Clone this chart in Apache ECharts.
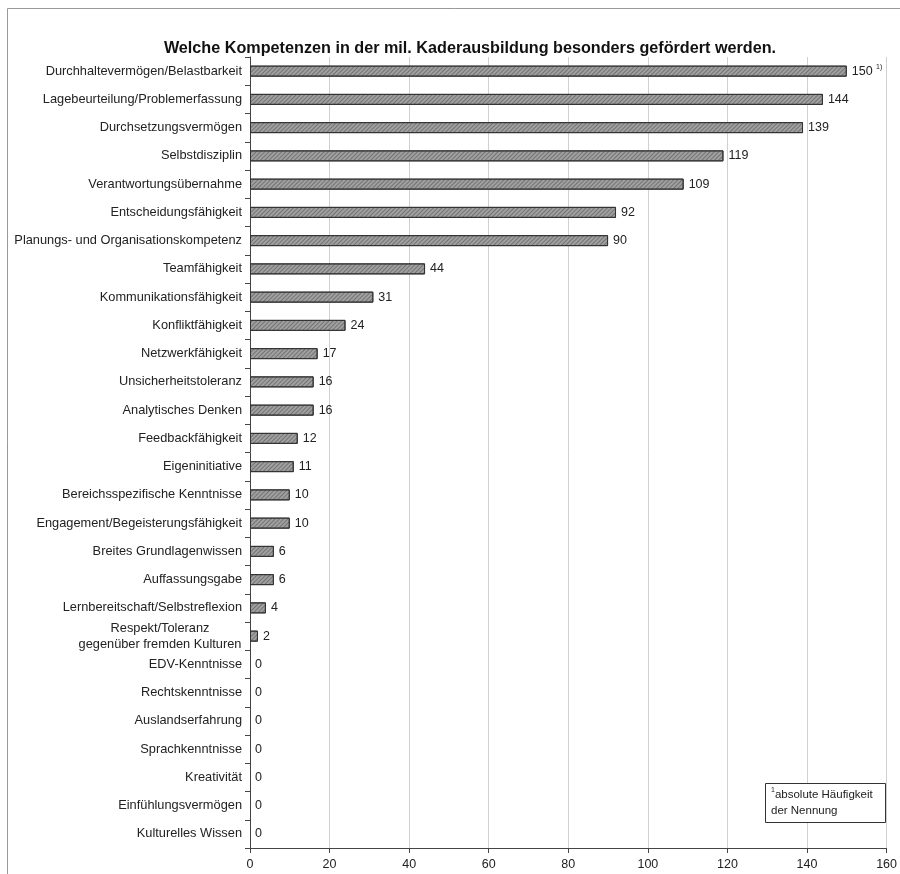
<!DOCTYPE html>
<html><head><meta charset="utf-8">
<script src="https://cdn.jsdelivr.net/npm/echarts@6/dist/echarts.min.js"></script>
<style>html,body{margin:0;padding:0;background:#fff}#c{width:900px;height:874px}</style>
</head><body><div id="c"></div>
<script>
const categories = [
 "Durchhaltevermögen/Belastbarkeit","Lagebeurteilung/Problemerfassung","Durchsetzungsvermögen","Selbstdisziplin",
 "Verantwortungsübernahme","Entscheidungsfähigkeit","Planungs- und Organisationskompetenz","Teamfähigkeit",
 "Kommunikationsfähigkeit","Konfliktfähigkeit","Netzwerkfähigkeit","Unsicherheitstoleranz","Analytisches Denken",
 "Feedbackfähigkeit","Eigeninitiative","Bereichsspezifische Kenntnisse","Engagement/Begeisterungsfähigkeit",
 "Breites Grundlagenwissen","Auffassungsgabe","Lernbereitschaft/Selbstreflexion",
 "Respekt/Toleranz\ngegenüber fremden Kulturen","EDV-Kenntnisse","Rechtskenntnisse","Auslandserfahrung",
 "Sprachkenntnisse","Kreativität","Einfühlungsvermögen","Kulturelles Wissen"];
const values = [150,144,139,119,109,92,90,44,31,24,17,16,16,12,11,10,10,6,6,4,2,0,0,0,0,0,0,0];
const xTicks = [0,20,40,60,80,100,120,140,160];
const titleText = "Welche Kompetenzen in der mil. Kaderausbildung besonders gefördert werden.";
const noteLines = ["{s|1}absolute Häufigkeit","der Nennung"];

const chart = echarts.init(document.getElementById('c'));
const F = "'Liberation Sans', Arial, sans-serif";
const barData = values.map(v => v === 0 ? {value:v,itemStyle:{borderWidth:0,opacity:0}} : v);
chart.setOption({
  backgroundColor:'#fff',
  animation:false,
  title:{text:titleText,left:465,top:36,textAlign:'center',
    textStyle:{fontFamily:F,fontSize:16.2,fontWeight:'bold',color:'#111'}},
  grid:{left:250,right:12,top:57,bottom:26,containLabel:false},
  xAxis:{type:'value',min:0,max:160,interval:20,
    axisLine:{show:true,lineStyle:{color:'#444'}},
    axisTick:{show:true,length:5,lineStyle:{color:'#444'}},
    splitLine:{show:true,lineStyle:{color:'#d0d0d0',width:1}},
    axisLabel:{fontFamily:F,fontSize:12.5,color:'#222',margin:10,
      formatter:v=>xTicks.includes(v)?String(v):''}},
  yAxis:{type:'category',data:categories,inverse:true,
    axisLine:{show:true,lineStyle:{color:'#444'}},
    axisTick:{show:true,length:5,lineStyle:{color:'#444'}},
    axisLabel:{fontFamily:F,fontSize:12.8,color:'#222',margin:8,
      formatter:v=>{ if(v.indexOf('\n')>=0){const p=v.split('\n');return '{c|'+p[0]+'}\n{c|'+p[1]+'}';} return v;},
      rich:{c:{fontFamily:F,fontSize:12.8,color:'#222',width:164,align:'center',lineHeight:16}}}},
  series:[{type:'bar',data:barData,barWidth:11,
    itemStyle:{color:'#a0a0a0',borderColor:'#333',borderWidth:1,
      decal:{symbol:'rect',symbolSize:1,dashArrayX:[1,0],dashArrayY:[1,2],rotation:-Math.PI/4,color:'rgba(70,70,70,0.5)'}},
    label:{show:true,position:'right',distance:5,fontFamily:F,fontSize:12.5,color:'#222',opacity:1,
      formatter:p=>p.dataIndex===0?p.value+' {sup|1)}':String(p.value),
      rich:{sup:{fontSize:7,verticalAlign:'top',padding:[0,0,8,0],fontFamily:F,color:'#222'}}}}],
  graphic:[
    {type:'rect',shape:{x:7.5,y:8.5,width:900,height:870},style:{fill:'none',stroke:'#999',lineWidth:1},silent:true},
    {type:'rect',shape:{x:765.5,y:783.5,width:120,height:39},style:{fill:'#fff',stroke:'#333',lineWidth:1},z:10},
    {type:'text',x:771,y:787,z:11,style:{text:noteLines.join('\n'),fontFamily:F,fontSize:11.5,fill:'#222',lineHeight:16,
      rich:{s:{fontSize:7,verticalAlign:'top',fontFamily:F,fill:'#222'}}}}
  ]
});
</script></body></html>
